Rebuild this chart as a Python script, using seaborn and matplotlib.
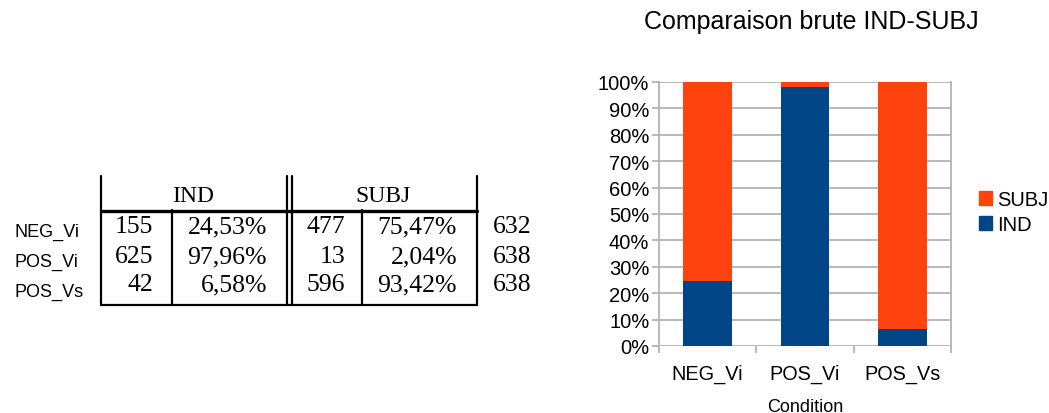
import matplotlib
matplotlib.use("Agg")
import matplotlib.pyplot as plt
import matplotlib.patches as mpatches
import pandas as pd
import seaborn as sns

conditions = ["NEG_Vi", "POS_Vi", "POS_Vs"]
ind_counts = [155, 625, 42]
subj_counts = [477, 13, 596]
totals = [632, 638, 638]

ind_pct = [100 * i / t for i, t in zip(ind_counts, totals)]
subj_pct = [100 * s / t for s, t in zip(subj_counts, totals)]

ORANGE = "#ff420e"
BLUE = "#004586"
GRID = "#b3b3b3"

sns.set_theme(style="white")
plt.rcParams["font.family"] = ["Liberation Sans", "DejaVu Sans"]
for key in ["text.color", "axes.labelcolor", "xtick.color", "ytick.color"]:
    plt.rcParams[key] = "black"

fig = plt.figure(figsize=(10.49, 4.14), dpi=100)


def pct_fr(v):
    return f"{v:.2f}".replace(".", ",") + "%"


# --- table on the left, drawn in pixel coordinates ---
tab = fig.add_axes([0, 0, 1, 1])
tab.set_xlim(0, 1049)
tab.set_ylim(414, 0)
tab.axis("off")

for x in [101, 286.5, 291.5, 477]:
    tab.plot([x, x], [177, 306], color="black", lw=1.6)
for x in [172, 362]:
    tab.plot([x, x], [211, 306], color="black", lw=1.6)
tab.plot([101, 477], [211.5, 211.5], color="black", lw=2.4)
tab.plot([101, 477], [306, 306], color="black", lw=1.6)

serif = ["Liberation Serif", "DejaVu Serif"]
tab.text(193, 202, "IND", family=serif, fontsize=17, ha="center", va="baseline")
tab.text(383, 202, "SUBJ", family=serif, fontsize=17, ha="center", va="baseline")

label_base = [237, 267, 297]
num_base = [233, 263, 291]
for i, cond in enumerate(conditions):
    tab.text(15, label_base[i], cond, fontsize=13, ha="left", va="baseline")
    yb = num_base[i]
    tab.text(153, yb, str(ind_counts[i]), family=serif, fontsize=18.5, ha="right", va="baseline")
    tab.text(267, yb, pct_fr(ind_pct[i]), family=serif, fontsize=18.5, ha="right", va="baseline")
    tab.text(345, yb, str(subj_counts[i]), family=serif, fontsize=18.5, ha="right", va="baseline")
    tab.text(457, yb, pct_fr(subj_pct[i]), family=serif, fontsize=18.5, ha="right", va="baseline")
    tab.text(493, yb, str(totals[i]), family=serif, fontsize=18.5, ha="left", va="baseline")

# --- stacked 100% bar chart ---
ax = fig.add_axes([659 / 1049, 1 - 347 / 414, 292 / 1049, 264 / 414])
df = pd.DataFrame({
    "Condition": conditions,
    "IND": ind_pct,
    "Total": [a + b for a, b in zip(ind_pct, subj_pct)],
})
sns.barplot(data=df, x="Condition", y="Total", color=ORANGE, width=0.5,
            saturation=1, ax=ax, zorder=3, linewidth=0, edgecolor="none")
sns.barplot(data=df, x="Condition", y="IND", color=BLUE, width=0.5,
            saturation=1, ax=ax, zorder=3, linewidth=0, edgecolor="none")

ax.set_xlim(-0.5, 2.5)
ax.set_ylim(0, 100)
ax.set_yticks(range(0, 101, 10))
ax.set_yticklabels([f"{v}%" for v in range(0, 101, 10)])
ax.grid(axis="y", color=GRID, lw=1.3, zorder=0)
ax.set_axisbelow(True)
for side in ["top", "bottom"]:
    ax.spines[side].set_visible(False)
for side in ["left", "right"]:
    ax.spines[side].set_color(GRID)
    ax.spines[side].set_linewidth(1.3)

ax.set_xticks([-0.5, 0.5, 1.5, 2.5], minor=True)
ax.tick_params(axis="x", which="minor", length=5, width=1.3, color=GRID, direction="out", bottom=True)
ax.tick_params(axis="x", which="major", length=0, pad=13, labelsize=14.3)
ax.tick_params(axis="y", which="major", length=5, width=1.3, color=GRID, direction="out",
               left=True, pad=2, labelsize=14.5)
ax.set_ylabel("")
ax.set_xlabel("Condition", fontsize=13)
ax.xaxis.set_label_coords(0.5, -0.228)
ax.xaxis.label.set_va("center")

fig.text(811 / 1049, 1 - 22 / 414, "Comparaison brute IND-SUBJ", fontsize=18,
         ha="center", va="center")

handles = [mpatches.Patch(color=ORANGE, label="SUBJ"), mpatches.Patch(color=BLUE, label="IND")]
fig.legend(handles=handles, loc="center left", bbox_to_anchor=(979 / 1049, 1 - 213 / 414),
           frameon=False, fontsize=14.5, handlelength=0.65, handleheight=0.65,
           handletextpad=0.25, labelspacing=0.3, borderaxespad=0, borderpad=0)

fig.savefig("out.png", dpi=100, facecolor="white")
